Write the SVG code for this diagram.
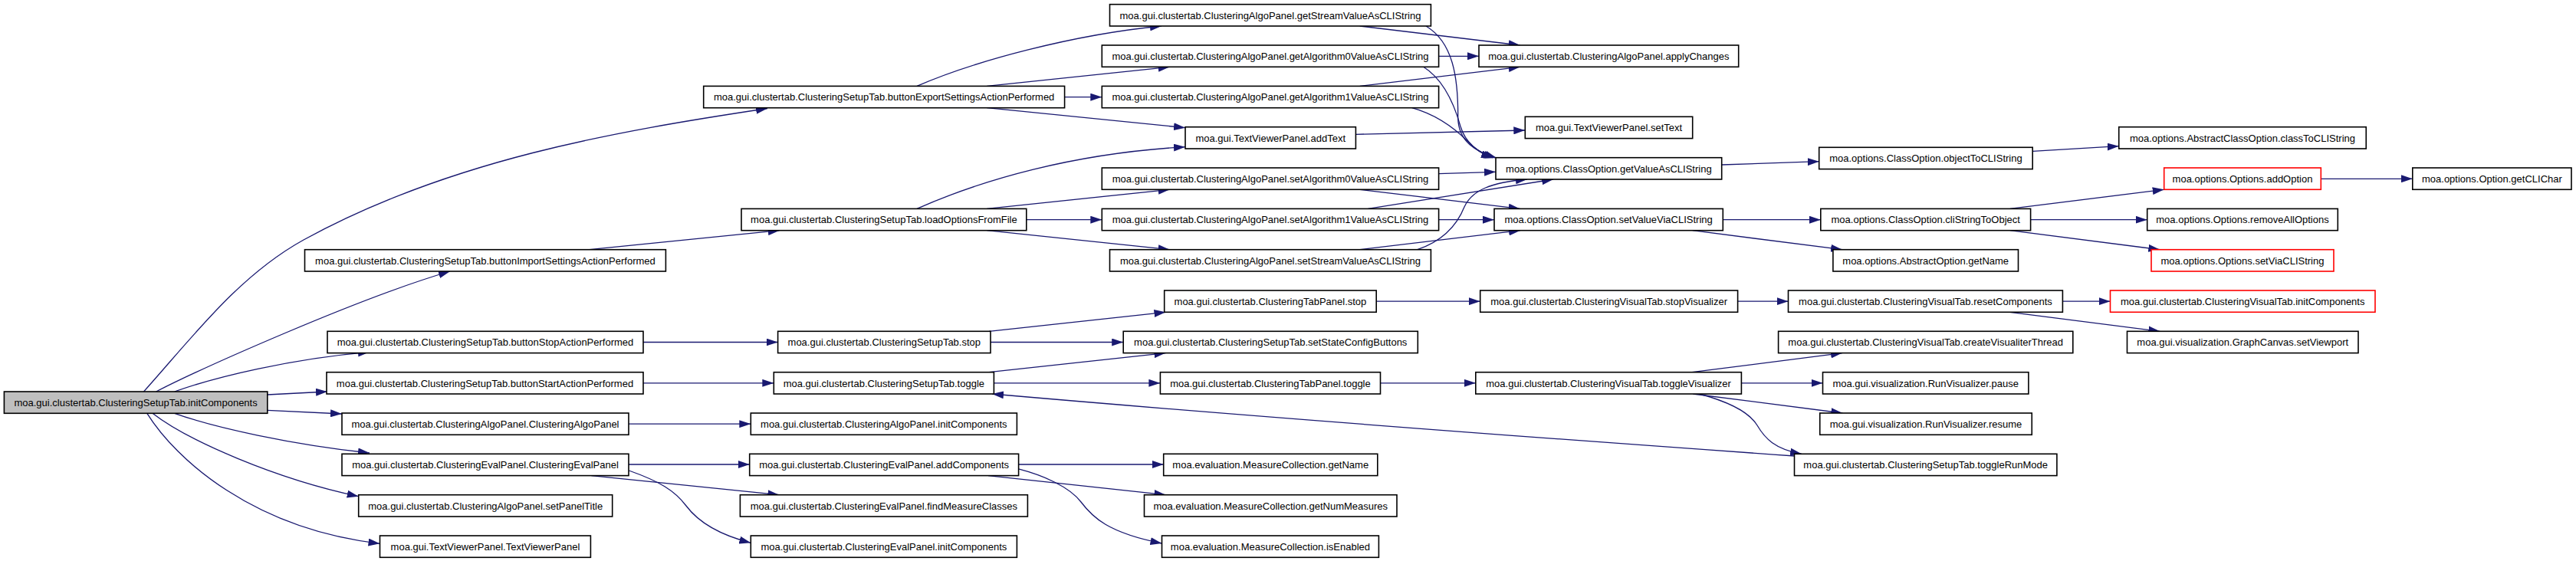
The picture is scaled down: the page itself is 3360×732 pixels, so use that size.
<svg xmlns="http://www.w3.org/2000/svg" width="3360" height="732" viewBox="0 0 3360 732">
<defs>
<marker id="ah" markerUnits="userSpaceOnUse" markerWidth="15" markerHeight="10" viewBox="0 0 15 10" refX="15" refY="5" orient="auto">
<path d="M0,0 L15,5 L0,10 z" fill="#191970"/>
</marker>
<style>
.n rect{fill:#fff;stroke:#000;stroke-width:1.6}
.n.red rect{stroke:#ff0000}
.n.root rect{fill:#bfbfbf}
.n text{font-family:"Liberation Sans",Arial,sans-serif;font-size:13px;text-anchor:middle;fill:#000}
.e path{fill:none;stroke:#191970;stroke-width:1.3;marker-end:url(#ah)}
</style>
</defs>
<rect width="3360" height="732" fill="#fff"/>
<g id="edges" class="e">
<path d="M187.5,511 C252,439 311,360 396,313 C586,209 801,171.5 1001,141.5"/>
<path d="M203.6,511 C260,482 467,389 587,354"/>
<path d="M227.7,511 C280,492 380,468 482,459.3"/>
<path d="M348.8,515 L427,511"/>
<path d="M348.8,535.3 L446,540"/>
<path d="M227.7,539.3 C280,558 380,580 482,591"/>
<path d="M199,539.3 C245,575 360,625 467.7,647.7"/>
<path d="M191.8,539.3 C230,600 330,690 495.5,709.3"/>
<path d="M1196,112.4 C1270,80 1400,45 1515,34"/>
<path d="M1287.3,112.4 L1525.7,87.3"/>
<path d="M1388.6,126.7 L1437.3,126.7"/>
<path d="M1287.3,140.7 L1546,166.7"/>
<path d="M1196,272.4 C1280,235 1400,200 1546,191.7"/>
<path d="M1287.3,272.4 L1525.7,247.3"/>
<path d="M1338.8,286.7 L1437.3,286.7"/>
<path d="M1287.3,300.7 L1525.7,325.7"/>
<path d="M768.75,325.7 L1016.8,300.7"/>
<path d="M1773.75,34 L1982.7,59"/>
<path d="M1860,34 C1895,55 1902,100 1901.7,153.3 C1902,185 1925,198 1952,206"/>
<path d="M1856.7,87.3 C1885,105 1898,140 1905,165 C1912,188 1930,200 1950,206"/>
<path d="M1841.7,140.7 C1875,150 1900,170 1915,185 C1925,196 1935,202 1947,206"/>
<path d="M1876.6,73.3 L1929,73.3"/>
<path d="M1773.75,112.4 L1982.7,87.3"/>
<path d="M1768.4,175.3 L1989.3,170"/>
<path d="M1876.6,226.7 L1951,224.3"/>
<path d="M1773.75,247.3 L1982.7,272.4"/>
<path d="M1784.5,272.4 L2026,234"/>
<path d="M1876.6,286.7 L1949,286.7"/>
<path d="M1848.75,325.7 C1880,315 1900,295 1910,270 C1920,248 1945,238 1992,234"/>
<path d="M1773.75,325.7 L1983,300.7"/>
<path d="M2245.7,215 L2372.7,210.7"/>
<path d="M2247.3,286.7 L2374.8,286.7"/>
<path d="M2207.7,300.7 L2403,325.7"/>
<path d="M2651.25,197.3 L2763.75,190.7"/>
<path d="M2621.8,272.4 L2822.7,247.3"/>
<path d="M2648.6,286.7 L2800.7,286.7"/>
<path d="M2621.8,300.7 L2817.3,325.7"/>
<path d="M3027.3,233.3 L3146.8,233.3"/>
<path d="M839,446.5 L1014.6,446.5"/>
<path d="M839,499.8 L1009.3,499.8"/>
<path d="M820,553.2 L979.3,553.2"/>
<path d="M820,606 L977.7,606"/>
<path d="M771.4,620.6 L1016.3,645.7"/>
<path d="M820.4,614 C860,628 880,640 895,660 C910,680 935,697 979.3,708.3"/>
<path d="M1290,432.3 L1520.4,407.3"/>
<path d="M1292,446.5 L1465.2,446.5"/>
<path d="M1290,485.7 L1520.4,460.6"/>
<path d="M1296.4,499.8 L1513.4,499.8"/>
<path d="M1795.2,393.2 L1930.7,393.2"/>
<path d="M1800.5,499.8 L1924.8,499.8"/>
<path d="M2266.6,393.2 L2332.5,393.2"/>
<path d="M2207,485.7 L2403,460.6"/>
<path d="M2271.4,499.8 L2377.5,499.8"/>
<path d="M2208.3,514 L2403.3,539"/>
<path d="M2216.7,514 C2250,523 2280,535 2292,555 C2302,572 2315,586 2350,592.3"/>
<path d="M2340.5,595 Q1716,550.8 1294,514"/>
<path d="M2690.4,393.2 L2752.5,393.2"/>
<path d="M2621.8,407.3 L2817.3,432.3"/>
<path d="M1328.6,606 L1517.7,606"/>
<path d="M1289,620.6 L1520.4,645.7"/>
<path d="M1327.6,611.7 C1360,620 1395,635 1410,655 C1425,675 1445,695 1515.5,709"/>
</g>
<g id="n_root" class="n root"><rect x="5.4" y="511" width="343.4" height="28.3"/><text x="177.1" y="529.8">moa.gui.clustertab.ClusteringSetupTab.initComponents</text></g>
<g id="n_bExport" class="n"><rect x="917.7" y="112.4" width="470.9" height="28.3"/><text x="1153.15" y="131.2">moa.gui.clustertab.ClusteringSetupTab.buttonExportSettingsActionPerformed</text></g>
<g id="n_loadOpts" class="n"><rect x="967" y="272.4" width="371.8" height="28.3"/><text x="1152.9" y="291.2">moa.gui.clustertab.ClusteringSetupTab.loadOptionsFromFile</text></g>
<g id="n_bImport" class="n"><rect x="397.5" y="325.7" width="470.9" height="28.3"/><text x="632.95" y="344.5">moa.gui.clustertab.ClusteringSetupTab.buttonImportSettingsActionPerformed</text></g>
<g id="n_bStop" class="n"><rect x="427" y="432.3" width="412" height="28.3"/><text x="633" y="451.1">moa.gui.clustertab.ClusteringSetupTab.buttonStopActionPerformed</text></g>
<g id="n_bStart" class="n"><rect x="426" y="485.7" width="413" height="28.3"/><text x="632.5" y="504.5">moa.gui.clustertab.ClusteringSetupTab.buttonStartActionPerformed</text></g>
<g id="n_algoCtor" class="n"><rect x="446" y="539" width="374" height="28.3"/><text x="633" y="557.8">moa.gui.clustertab.ClusteringAlgoPanel.ClusteringAlgoPanel</text></g>
<g id="n_evalCtor" class="n"><rect x="446" y="592.3" width="374" height="28.3"/><text x="633" y="611.1">moa.gui.clustertab.ClusteringEvalPanel.ClusteringEvalPanel</text></g>
<g id="n_setPanelTitle" class="n"><rect x="467.7" y="645.7" width="331" height="28.3"/><text x="633.2" y="664.5">moa.gui.clustertab.ClusteringAlgoPanel.setPanelTitle</text></g>
<g id="n_tvpCtor" class="n"><rect x="495.5" y="699" width="274.9" height="28.3"/><text x="632.95" y="717.8">moa.gui.TextViewerPanel.TextViewerPanel</text></g>
<g id="n_stStop" class="n"><rect x="1014.6" y="432.3" width="277.4" height="28.3"/><text x="1153.3" y="451.1">moa.gui.clustertab.ClusteringSetupTab.stop</text></g>
<g id="n_stToggle" class="n"><rect x="1009.3" y="485.7" width="287.1" height="28.3"/><text x="1152.85" y="504.5">moa.gui.clustertab.ClusteringSetupTab.toggle</text></g>
<g id="n_algoInit" class="n"><rect x="979.3" y="539" width="347.1" height="28.3"/><text x="1152.85" y="557.8">moa.gui.clustertab.ClusteringAlgoPanel.initComponents</text></g>
<g id="n_evalAdd" class="n"><rect x="977.7" y="592.3" width="350.9" height="28.3"/><text x="1153.15" y="611.1">moa.gui.clustertab.ClusteringEvalPanel.addComponents</text></g>
<g id="n_evalFind" class="n"><rect x="965.4" y="645.7" width="375" height="28.3"/><text x="1152.9" y="664.5">moa.gui.clustertab.ClusteringEvalPanel.findMeasureClasses</text></g>
<g id="n_evalInit" class="n"><rect x="979.3" y="699" width="347.1" height="28.3"/><text x="1152.85" y="717.8">moa.gui.clustertab.ClusteringEvalPanel.initComponents</text></g>
<g id="n_getStream" class="n"><rect x="1447.5" y="5.7" width="418.9" height="28.3"/><text x="1656.95" y="24.5">moa.gui.clustertab.ClusteringAlgoPanel.getStreamValueAsCLIString</text></g>
<g id="n_getAlg0" class="n"><rect x="1437.3" y="59" width="439.3" height="28.3"/><text x="1656.95" y="77.8">moa.gui.clustertab.ClusteringAlgoPanel.getAlgorithm0ValueAsCLIString</text></g>
<g id="n_getAlg1" class="n"><rect x="1437.3" y="112.4" width="439.3" height="28.3"/><text x="1656.95" y="131.2">moa.gui.clustertab.ClusteringAlgoPanel.getAlgorithm1ValueAsCLIString</text></g>
<g id="n_addText" class="n"><rect x="1546" y="165.7" width="222.4" height="28.3"/><text x="1657.2" y="184.5">moa.gui.TextViewerPanel.addText</text></g>
<g id="n_setAlg0" class="n"><rect x="1437.3" y="219" width="439.3" height="28.3"/><text x="1656.95" y="237.8">moa.gui.clustertab.ClusteringAlgoPanel.setAlgorithm0ValueAsCLIString</text></g>
<g id="n_setAlg1" class="n"><rect x="1437.3" y="272.4" width="439.3" height="28.3"/><text x="1656.95" y="291.2">moa.gui.clustertab.ClusteringAlgoPanel.setAlgorithm1ValueAsCLIString</text></g>
<g id="n_setStream" class="n"><rect x="1447.5" y="325.7" width="418.9" height="28.3"/><text x="1656.95" y="344.5">moa.gui.clustertab.ClusteringAlgoPanel.setStreamValueAsCLIString</text></g>
<g id="n_tpStop" class="n"><rect x="1518.7" y="379" width="276.5" height="28.3"/><text x="1656.95" y="397.8">moa.gui.clustertab.ClusteringTabPanel.stop</text></g>
<g id="n_setState" class="n"><rect x="1465.2" y="432.3" width="384.1" height="28.3"/><text x="1657.25" y="451.1">moa.gui.clustertab.ClusteringSetupTab.setStateConfigButtons</text></g>
<g id="n_tpToggle" class="n"><rect x="1513.4" y="485.7" width="287.1" height="28.3"/><text x="1656.95" y="504.5">moa.gui.clustertab.ClusteringTabPanel.toggle</text></g>
<g id="n_mcName" class="n"><rect x="1517.7" y="592.3" width="279.1" height="28.3"/><text x="1657.25" y="611.1">moa.evaluation.MeasureCollection.getName</text></g>
<g id="n_mcNum" class="n"><rect x="1492.5" y="645.7" width="329.5" height="28.3"/><text x="1657.25" y="664.5">moa.evaluation.MeasureCollection.getNumMeasures</text></g>
<g id="n_mcEnabled" class="n"><rect x="1515.5" y="699" width="282.9" height="28.3"/><text x="1656.95" y="717.8">moa.evaluation.MeasureCollection.isEnabled</text></g>
<g id="n_applyChanges" class="n"><rect x="1929" y="59" width="338.7" height="28.3"/><text x="2098.35" y="77.8">moa.gui.clustertab.ClusteringAlgoPanel.applyChanges</text></g>
<g id="n_setText" class="n"><rect x="1989.3" y="152.3" width="218.4" height="28.3"/><text x="2098.5" y="171.1">moa.gui.TextViewerPanel.setText</text></g>
<g id="n_getValue" class="n"><rect x="1951" y="205.7" width="294.7" height="28.3"/><text x="2098.35" y="224.5">moa.options.ClassOption.getValueAsCLIString</text></g>
<g id="n_setValue" class="n"><rect x="1949" y="272.4" width="298.3" height="28.3"/><text x="2098.15" y="291.2">moa.options.ClassOption.setValueViaCLIString</text></g>
<g id="n_stopVis" class="n"><rect x="1930.7" y="379" width="335.9" height="28.3"/><text x="2098.65" y="397.8">moa.gui.clustertab.ClusteringVisualTab.stopVisualizer</text></g>
<g id="n_toggleVis" class="n"><rect x="1924.8" y="485.7" width="346.6" height="28.3"/><text x="2098.1" y="504.5">moa.gui.clustertab.ClusteringVisualTab.toggleVisualizer</text></g>
<g id="n_objToCLI" class="n"><rect x="2372.7" y="192.3" width="278.5" height="28.3"/><text x="2511.95" y="211.1">moa.options.ClassOption.objectToCLIString</text></g>
<g id="n_cliToObj" class="n"><rect x="2374.8" y="272.4" width="273.8" height="28.3"/><text x="2511.7" y="291.2">moa.options.ClassOption.cliStringToObject</text></g>
<g id="n_aoGetName" class="n"><rect x="2390.9" y="325.7" width="241.6" height="28.3"/><text x="2511.7" y="344.5">moa.options.AbstractOption.getName</text></g>
<g id="n_resetComp" class="n"><rect x="2332.5" y="379" width="357.9" height="28.3"/><text x="2511.45" y="397.8">moa.gui.clustertab.ClusteringVisualTab.resetComponents</text></g>
<g id="n_createThread" class="n"><rect x="2319.6" y="432.3" width="384.2" height="28.3"/><text x="2511.7" y="451.1">moa.gui.clustertab.ClusteringVisualTab.createVisualiterThread</text></g>
<g id="n_pause" class="n"><rect x="2377.5" y="485.7" width="268.4" height="28.3"/><text x="2511.7" y="504.5">moa.gui.visualization.RunVisualizer.pause</text></g>
<g id="n_resume" class="n"><rect x="2373.75" y="539" width="276.5" height="28.3"/><text x="2512" y="557.8">moa.gui.visualization.RunVisualizer.resume</text></g>
<g id="n_toggleRunMode" class="n"><rect x="2340.5" y="592.3" width="342.4" height="28.3"/><text x="2511.7" y="611.1">moa.gui.clustertab.ClusteringSetupTab.toggleRunMode</text></g>
<g id="n_classToCLI" class="n"><rect x="2763.75" y="165.7" width="322.5" height="28.3"/><text x="2925" y="184.5">moa.options.AbstractClassOption.classToCLIString</text></g>
<g id="n_addOption" class="n red"><rect x="2822.7" y="219" width="204.6" height="28.3"/><text x="2925" y="237.8">moa.options.Options.addOption</text></g>
<g id="n_removeAll" class="n"><rect x="2800.7" y="272.4" width="248.6" height="28.3"/><text x="2925" y="291.2">moa.options.Options.removeAllOptions</text></g>
<g id="n_setVia" class="n red"><rect x="2806" y="325.7" width="238" height="28.3"/><text x="2925" y="344.5">moa.options.Options.setViaCLIString</text></g>
<g id="n_vtInit" class="n red"><rect x="2752.5" y="379" width="345.5" height="28.3"/><text x="2925.25" y="397.8">moa.gui.clustertab.ClusteringVisualTab.initComponents</text></g>
<g id="n_setViewport" class="n"><rect x="2774.5" y="432.3" width="301.5" height="28.3"/><text x="2925.25" y="451.1">moa.gui.visualization.GraphCanvas.setViewport</text></g>
<g id="n_getCLIChar" class="n"><rect x="3146.8" y="219" width="207.2" height="28.3"/><text x="3250.4" y="237.8">moa.options.Option.getCLIChar</text></g>
</svg>
